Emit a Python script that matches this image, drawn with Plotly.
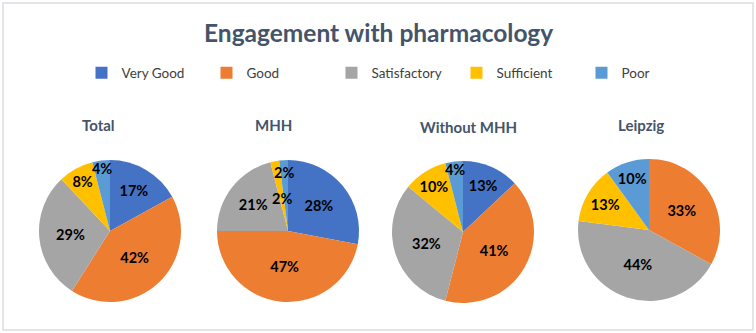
import math
import plotly.graph_objects as go

categories = ["Very Good", "Good", "Satisfactory", "Sufficient", "Poor"]
colors = ["#4472C4", "#ED7D31", "#A5A5A5", "#FFC000", "#5B9BD5"]
groups = ["Total", "MHH", "Without MHH", "Leipzig"]
total_vals = [17, 42, 29, 8, 4]
mhh_vals = [28, 47, 21, 2, 2]
without_mhh_vals = [13, 41, 32, 10, 4]
leipzig_vals = [0, 33, 44, 13, 10]
series = [total_vals, mhh_vals, without_mhh_vals, leipzig_vals]

W, H = 756, 333
# pie centres (px) and radius
centers = [(110, 231), (288, 231), (463, 232), (649, 230)]
R = 71
title_pos = [(98, 125), (273, 125), (468, 127), (641, 125)]
# very thin slices: label placed manually at a radial fraction (Excel best-fit look)
thin_radius = {(1, 3): 0.47, (1, 4): 0.83}

FONT = "Lato"
LBL = dict(family=FONT, size=14.5, color="#000000")
fig = go.Figure()
for i, (g, vals) in enumerate(zip(groups, series)):
    cx, cy = centers[i]
    tot = sum(vals)
    tmpl = []
    cum = 0
    for j, v in enumerate(vals):
        if v == 0:
            tmpl.append("")
        elif (i, j) in thin_radius:
            tmpl.append("")
            mid = (cum + v / 2) / tot * 2 * math.pi
            rr = thin_radius[(i, j)] * R
            px = cx + rr * math.sin(mid)
            py = cy - rr * math.cos(mid)
            fig.add_annotation(text="<b>%d%%</b>" % round(100 * v / tot),
                               x=px / W, y=1 - py / H, xref="paper", yref="paper",
                               showarrow=False, xanchor="center", yanchor="middle",
                               font=LBL)
        else:
            tmpl.append("<b>%{percent:.0%}</b>")
        cum += v
    fig.add_trace(go.Pie(
        labels=categories, values=vals, name=g,
        marker=dict(colors=colors, line=dict(width=0)),
        sort=False, direction="clockwise", rotation=0,
        texttemplate=tmpl,
        textposition="inside", insidetextorientation="horizontal",
        textfont=LBL,
        domain=dict(x=[(cx - R) / W, (cx + R) / W],
                    y=[1 - (cy + R) / H, 1 - (cy - R) / H]),
        showlegend=(i == 0), hoverinfo="label+percent",
    ))
    tx, ty = title_pos[i]
    fig.add_annotation(text="<b>" + g + "</b>", x=tx / W, y=1 - ty / H,
                       xref="paper", yref="paper", showarrow=False,
                       xanchor="center", yanchor="middle",
                       font=dict(family=FONT, size=15, color="#44546A"))

fig.add_annotation(text="<b>Engagement with pharmacology</b>", x=378 / W, y=1 - 32 / H,
                   xref="paper", yref="paper", showarrow=False,
                   xanchor="center", yanchor="middle",
                   font=dict(family=FONT, size=24.5, color="#44546A"))

fig.add_shape(type="rect", xref="paper", yref="paper",
              x0=3 / W, x1=1 - 3 / W, y0=3 / H, y1=1 - 3 / H,
              line=dict(color="#DADDE2", width=1.5), fillcolor="rgba(0,0,0,0)")

fig.update_layout(
    width=W, height=H,
    margin=dict(l=0, r=0, t=0, b=0),
    paper_bgcolor="white", plot_bgcolor="white",
    uniformtext=dict(minsize=14, mode="show"),
    legend=dict(orientation="h", x=394 / W, xanchor="center", y=1 - 73 / H, yanchor="middle",
                font=dict(family=FONT, size=13.5, color="#404040"),
                entrywidth=80, entrywidthmode="pixels", itemwidth=30,
                traceorder="normal"),
    font=dict(family=FONT),
)

fig.write_html("out.html")
